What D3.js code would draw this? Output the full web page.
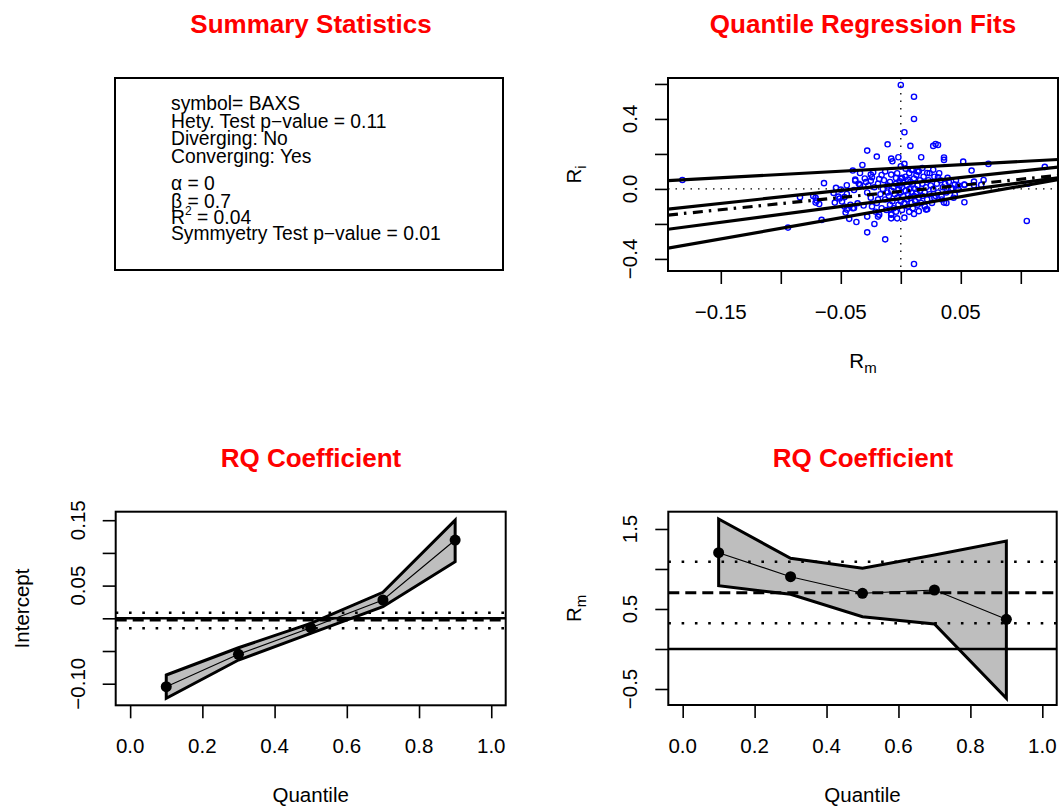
<!DOCTYPE html>
<html><head><meta charset="utf-8">
<script src="https://cdn.jsdelivr.net/npm/d3@7"></script>
<style>body{margin:0;background:#fff} svg{display:block} text{font-family:"Liberation Sans",Arial,Helvetica,sans-serif}</style>
</head><body><svg id="c" width="1061" height="808"></svg>
<script>
// ---------- data ----------
const titles = ["Summary Statistics", "Quantile Regression Fits", "RQ Coefficient", "RQ Coefficient"];
const summaryLines = ["symbol= BAXS", "Hety. Test p\u2212value = 0.11", "Diverging: No", "Converging: Yes",
  "\u03b1 = 0", "\u03b2 = 0.7", "R2 = 0.04", "Symmyetry Test p\u2212value = 0.01"];

const quantiles = [0.1, 0.3, 0.5, 0.7, 0.9];
const interceptEst = [-0.1046, -0.055, -0.0143, 0.028, 0.1197];
const interceptLo  = [-0.1223, -0.0638, -0.023, 0.0178, 0.0866];
const interceptHi  = [-0.0867, -0.045, -0.0077, 0.0397, 0.150];
const slopeEst = [1.204, 0.904, 0.696, 0.7375, 0.371];
const slopeLo  = [0.79, 0.684, 0.404, 0.3125, -0.616];
const slopeHi  = [1.625, 1.133, 1.009, 1.175, 1.35];
const olsIntercept = [-0.0026, -0.0153, 0.0086]; // estimate, lower, upper
const olsSlope = [0.704, 0.321, 1.091];

const rm = [-0.182,0.0,0.011,0.011,0.003,0.008,-0.011,-0.028,0.027,0.029,0.031,0.036,0.036,0.052,0.073,0.12,0.017,-0.020,-0.002,-0.032,
 -0.04,-0.064,0.059,0.061,0.069,-0.084,-0.073,-0.071,-0.068,-0.094,-0.066,-0.055,0.053,0.105,-0.013,-0.028,0.011,-0.022,-0.037,-0.043,
 -0.046,-0.047,-0.008,-0.003,0.003,0.011,0.015,0.022,0.036,0.044,-0.028,-0.019,-0.008,-0.040,-0.036,-0.031,-0.008,-0.007,-0.034,-0.025,
 -0.023,-0.024,-0.018,-0.038,-0.045,0.0,0.003,0.004,0.010,0.014,0.018,0.022,0.027,0.031,0.039,0.045,0.053,0.061,-0.008,-0.004,
 -0.001,0.001,0.006,-0.038,-0.035,-0.029,-0.025,-0.071,-0.07,-0.051,-0.047,-0.045,-0.042,-0.039,-0.018,-0.008,0.007,0.021,0.038,0.028,
 0.034,0.045,-0.054,-0.05,-0.056,0.067,0.053,0.043,0.048,0.106,-0.049,-0.052,-0.045,-0.039,-0.034,
 -0.028,-0.025,-0.022,-0.02,-0.019,-0.017,-0.016,-0.015,-0.014,-0.013,-0.012,-0.011,-0.010,-0.009,-0.009,-0.008,-0.007,-0.006,-0.006,-0.005,
 -0.004,-0.004,-0.003,-0.002,-0.002,-0.001,0.0,0.0,0.001,0.001,0.002,0.002,0.003,0.004,0.004,0.005,0.005,0.006,0.006,0.007,
 0.007,0.008,0.008,0.009,0.009,0.010,0.010,0.011,0.011,0.012,0.012,0.013,0.013,0.014,0.014,0.015,0.016,0.016,0.017,0.018,
 0.018,0.019,0.020,0.020,0.021,0.022,0.023,0.024,0.025,0.026,0.027,0.028,0.029,0.030,0.031,0.033,0.034,0.035,0.037,0.038,
 0.040,0.042,0.046,0.048,-0.03,-0.027,-0.024,-0.021,-0.019,-0.016,-0.013,-0.011,-0.003,0.0,0.009,0.015,0.024,0.032];
const ri = [0.051,0.594,0.527,0.40,0.324,0.246,0.255,0.219,0.246,0.257,0.251,0.18,0.166,0.156,0.143,0.126,0.181,0.185,0.181,0.137,
 0.105,0.033,0.105,0.042,0.051,-0.047,-0.04,-0.078,-0.086,-0.221,-0.177,-0.078,-0.076,-0.183,-0.288,-0.248,-0.429,-0.20,-0.189,-0.171,
 -0.135,-0.10,-0.168,-0.168,-0.164,-0.143,-0.127,-0.116,-0.078,-0.05,-0.158,-0.158,-0.143,-0.11,-0.082,-0.095,0.173,0.158,0.091,0.082,
 0.095,0.067,0.057,0.053,0.021,0.13,0.143,0.116,0.11,0.10,0.12,0.091,0.11,0.067,0.063,0.025,0.025,0.021,0.082,0.063,
 0.044,0.063,0.053,0.047,0.029,0.04,0.047,-0.051,-0.067,-0.055,-0.047,-0.118,-0.09,-0.109,-0.147,-0.147,-0.131,-0.118,-0.08,-0.051,
 -0.042,-0.032,0.006,-0.004,-0.023,0.023,0.023,0.004,-0.003,0.03,-0.072,-0.044,-0.029,-0.006,0.023,
 -0.02,-0.05,0.01,-0.08,0.03,-0.03,-0.11,0.0,0.05,-0.06,-0.12,0.02,-0.04,-0.09,0.04,-0.01,-0.07,0.01,-0.11,-0.03,
 0.03,-0.13,-0.05,0.0,-0.09,0.02,-0.07,-0.02,0.01,-0.12,-0.04,0.035,-0.08,-0.01,0.07,-0.06,0.02,-0.1,-0.03,0.0,
 0.09,-0.05,0.04,-0.02,-0.08,0.03,-0.11,-0.04,0.06,0.0,-0.07,-0.02,0.08,-0.09,0.02,-0.05,0.05,-0.01,-0.08,0.03,
 -0.04,0.07,-0.02,-0.1,0.01,-0.06,0.05,-0.03,0.02,-0.08,0.0,0.07,-0.04,0.03,-0.02,0.05,-0.06,0.01,0.03,-0.02,
 0.04,0.0,0.05,0.02,0.06,0.02,-0.1,-0.13,-0.06,0.08,0.1,-0.02,0.09,0.06,0.11,0.1,0.09,0.09];

const fitXTicks = [-0.15, -0.10, -0.05, 0, 0.05, 0.10];
const fitXLabels = [[-0.15, "\u22120.15"], [-0.05, "\u22120.05"], [0.05, "0.05"]];
const fitYTicks = [-0.4, -0.2, 0, 0.2, 0.4, 0.6];
const fitYLabels = [[-0.4, "\u22120.4"], [0, "0.0"], [0.4, "0.4"]];
const qTicks = [0, 0.2, 0.4, 0.6, 0.8, 1.0];
const qLabels = [[0, "0.0"], [0.2, "0.2"], [0.4, "0.4"], [0.6, "0.6"], [0.8, "0.8"], [1.0, "1.0"]];
const intYTicks = [-0.10, -0.05, 0, 0.05, 0.10, 0.15];
const intYLabels = [[-0.10, "\u22120.10"], [0.05, "0.05"], [0.15, "0.15"]];
const slYTicks = [-0.5, 0, 0.5, 1.0, 1.5];
const slYLabels = [[-0.5, "\u22120.5"], [0.5, "0.5"], [1.5, "1.5"]];

// ---------- drawing ----------
const svg = d3.select("#c");
const FS = 20.5;

function title(txt, cx, y) {
  svg.append("text").attr("x", cx).attr("y", y).attr("text-anchor", "middle")
    .attr("font-size", 26).attr("font-weight", "bold").attr("fill", "#ff0000").text(txt);
}

function panel(id, box, xDom, yDom, xTicks, xLabels, yTicks, yLabels) {
  const x = d3.scaleLinear().domain(xDom).range([box.l, box.r]);
  const y = d3.scaleLinear().domain(yDom).range([box.b, box.t]);
  svg.append("clipPath").attr("id", id).append("rect")
    .attr("x", box.l).attr("y", box.t).attr("width", box.r - box.l).attr("height", box.b - box.t);
  const ax = svg.append("g").attr("transform", `translate(0,${box.b})`)
    .call(d3.axisBottom(x).tickValues(xTicks).tickSize(13).tickFormat(""));
  ax.select(".domain").remove();
  ax.selectAll("line").attr("stroke", "#000").attr("stroke-width", 1.6);
  const ay = svg.append("g").attr("transform", `translate(${box.l},0)`)
    .call(d3.axisLeft(y).tickValues(yTicks).tickSize(13).tickFormat(""));
  ay.select(".domain").remove();
  ay.selectAll("line").attr("stroke", "#000").attr("stroke-width", 1.6);
  svg.append("g").selectAll("text").data(xLabels).join("text")
    .attr("x", d => x(d[0])).attr("y", box.b + 48).attr("text-anchor", "middle")
    .attr("font-size", FS).text(d => d[1]);
  svg.append("g").selectAll("text").data(yLabels).join("text")
    .attr("transform", d => `translate(${box.l - 31},${y(d[0])}) rotate(-90)`)
    .attr("text-anchor", "middle").attr("font-size", FS).text(d => d[1]);
  const g = svg.append("g").attr("clip-path", `url(#${id})`);
  return {x, y, g, box};
}
function frame(box) {
  svg.append("rect").attr("x", box.l).attr("y", box.t).attr("width", box.r - box.l)
    .attr("height", box.b - box.t).attr("fill", "none").attr("stroke", "#000").attr("stroke-width", 2);
}
function xTitle(box, t, sub) {
  const tx = svg.append("text").attr("x", (box.l + box.r) / 2).attr("y", box.b + 97)
    .attr("text-anchor", "middle").attr("font-size", FS).text(t);
  if (sub) tx.append("tspan").attr("font-size", 15).attr("dy", 5).text(sub);
}
function yTitle(box, t, sub) {
  const ty = svg.append("text")
    .attr("transform", `translate(${box.l - 87},${(box.t + box.b) / 2}) rotate(-90)`)
    .attr("text-anchor", "middle").attr("font-size", FS).text(t);
  if (sub) ty.append("tspan").attr("font-size", 15).attr("dy", 5).text(sub);
}

// Titles
title(titles[0], 311, 33);
title(titles[1], 863, 33);
title(titles[2], 311, 467);
title(titles[3], 863, 467);

// ---- Summary box ----
const sb = {l: 115, t: 78, r: 503, b: 270};
frame(sb);
const sBase = [110, 127.5, 145, 163.3, 190, 208, 224.3, 240];
summaryLines.forEach((s, i) => {
  const t = svg.append("text").attr("x", 171).attr("y", sBase[i]).attr("font-size", 19.3);
  if (s.startsWith("R2")) {
    t.append("tspan").text("R");
    t.append("tspan").attr("font-size", 12).attr("dy", -9).text("2");
    t.append("tspan").attr("dy", 9).text(s.slice(2));
  } else t.text(s);
});

// ---- Quantile regression fits ----
const P2 = panel("cp2", {l: 668, t: 78, r: 1058, b: 271}, [-0.194, 0.131], [-0.469, 0.634],
  fitXTicks, fitXLabels, fitYTicks, fitYLabels);
{
  const {x, y, g} = P2;
  g.append("line").attr("x1", x(0)).attr("x2", x(0)).attr("y1", P2.box.t).attr("y2", P2.box.b)
    .attr("stroke", "#000").attr("stroke-width", 1.3).attr("stroke-dasharray", "1.5,6");
  g.append("line").attr("x1", P2.box.l).attr("x2", P2.box.r).attr("y1", y(0)).attr("y2", y(0))
    .attr("stroke", "#000").attr("stroke-width", 1.3).attr("stroke-dasharray", "1.5,6");
  g.selectAll("circle").data(rm.map((v, i) => [v, ri[i]])).join("circle")
    .attr("cx", d => x(d[0])).attr("cy", d => y(d[1])).attr("r", 2.6)
    .attr("fill", "none").attr("stroke", "#0000ff").attr("stroke-width", 1.4);
  const [x0, x1] = x.domain();
  quantiles.forEach((q, i) => {
    g.append("line").attr("x1", x(x0)).attr("x2", x(x1))
      .attr("y1", y(interceptEst[i] + slopeEst[i] * x0)).attr("y2", y(interceptEst[i] + slopeEst[i] * x1))
      .attr("stroke", "#000").attr("stroke-width", 3.2)
      .attr("stroke-dasharray", q === 0.5 ? "10,6,2.5,6.5" : null);
  });
}
frame(P2.box);
xTitle(P2.box, "R", "m");
yTitle(P2.box, "R", "i");

// ---- coefficient panels ----
function coefPanel(id, box, yDom, yT, yL, est, lo, hi, ols, ylab, ysub) {
  const P = panel(id, box, [-0.04, 1.04], yDom, qTicks, qLabels, yT, yL);
  const {x, y, g} = P;
  const poly = quantiles.map((q, i) => [q, hi[i]]).concat(quantiles.map((q, i) => [q, lo[i]]).reverse());
  g.append("path").attr("d", d3.line().x(d => x(d[0])).y(d => y(d[1]))(poly) + "Z")
    .attr("fill", "#bebebe").attr("stroke", "#000").attr("stroke-width", 3).attr("stroke-linejoin", "miter");
  g.append("path").attr("d", d3.line().x((q) => x(q)).y((q, i) => y(est[i]))(quantiles))
    .attr("fill", "none").attr("stroke", "#000").attr("stroke-width", 1.1);
  const hl = (v, w, dash) => g.append("line").attr("x1", box.l).attr("x2", box.r)
    .attr("y1", y(v)).attr("y2", y(v)).attr("stroke", "#000").attr("stroke-width", w)
    .attr("stroke-dasharray", dash);
  hl(ols[0], 3, "11,6");
  hl(ols[1], 2.6, "2.6,10.7");
  hl(ols[2], 2.6, "2.6,10.7");
  hl(0, 2.6, null);
  g.selectAll("circle").data(quantiles).join("circle")
    .attr("cx", q => x(q)).attr("cy", (q, i) => y(est[i])).attr("r", 5.5).attr("fill", "#000");
  frame(box);
  xTitle(box, "Quantile");
  yTitle(box, ylab, ysub);
}
coefPanel("cp3", {l: 115.7, t: 511.7, r: 505.7, b: 705.3}, [-0.133, 0.163], intYTicks, intYLabels,
  interceptEst, interceptLo, interceptHi, olsIntercept, "Intercept");
coefPanel("cp4", {l: 668.3, t: 511.7, r: 1056.7, b: 705}, [-0.70, 1.716], slYTicks, slYLabels,
  slopeEst, slopeLo, slopeHi, olsSlope, "R", "m");
</script></body></html>
